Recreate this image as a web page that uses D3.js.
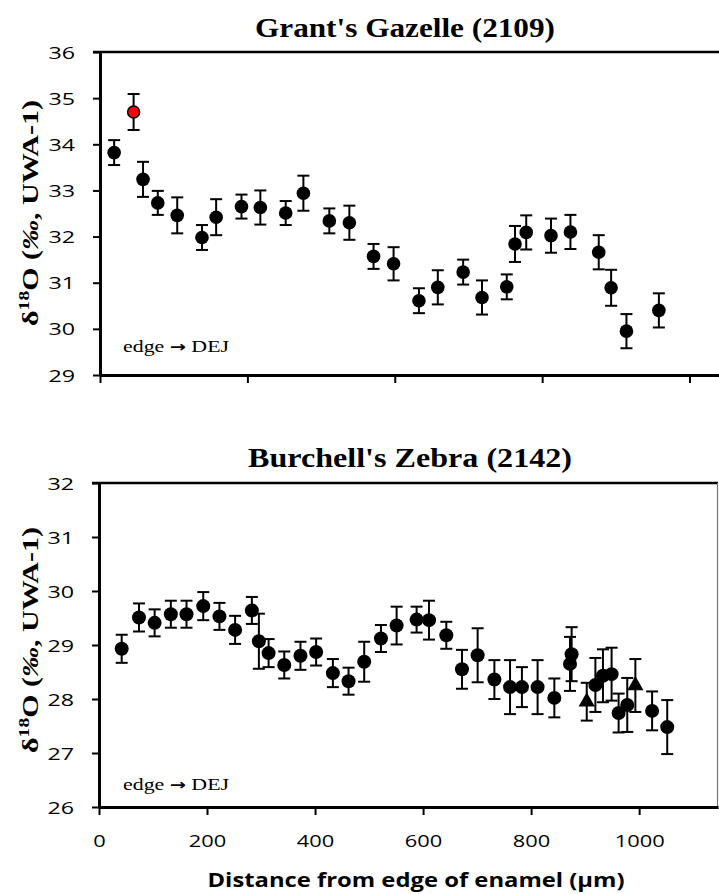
<!DOCTYPE html>
<html>
<head>
<meta charset="utf-8">
<script src="https://cdn.jsdelivr.net/npm/d3@7"></script>
<style>
body { margin: 0; background: #fff; }
</style>
</head>
<body>
<script>
// Grant's Gazelle (2109)
var gazX = [24, 73, 98, 131, 173, 197, 240, 272, 315, 345, 389, 423, 464, 498, 541, 573, 616, 648, 690, 704, 723, 765, 798, 846, 867, 893, 948];
var gazY = [33.82, 33.24, 32.73, 32.46, 31.98, 32.42, 32.65, 32.63, 32.51, 32.94, 32.34, 32.30, 31.57, 31.41, 30.61, 30.90, 31.23, 30.68, 30.91, 31.84, 32.09, 32.02, 32.10, 31.66, 30.89, 29.95, 30.40];
var gazErr = [0.27, 0.38, 0.26, 0.39, 0.27, 0.39, 0.26, 0.37, 0.26, 0.38, 0.27, 0.37, 0.27, 0.36, 0.27, 0.37, 0.27, 0.37, 0.27, 0.39, 0.37, 0.37, 0.37, 0.37, 0.39, 0.37, 0.37];
// red point
var gazRedX = [57];
var gazRedY = [34.70];
var gazRedErr = [0.39];

// Burchell's Zebra (2142)
var zebX = [42, 74, 103, 133, 162, 193, 223, 252, 283, 296, 314, 343, 373, 402, 433, 462, 491, 522, 551, 588, 611, 643, 672, 701, 732, 761, 783, 812, 843, 872, 875, 919, 933, 949, 962, 978, 1024, 1052];
var zebY = [28.93, 29.51, 29.41, 29.57, 29.57, 29.72, 29.53, 29.28, 29.64, 29.07, 28.85, 28.63, 28.80, 28.87, 28.48, 28.33, 28.69, 29.12, 29.36, 29.47, 29.46, 29.18, 28.55, 28.81, 28.36, 28.22, 28.22, 28.22, 28.02, 28.65, 28.83, 28.26, 28.43, 28.46, 27.74, 27.89, 27.78, 27.48];
var zebErr = [0.26, 0.26, 0.25, 0.25, 0.25, 0.26, 0.25, 0.26, 0.25, 0.51, 0.26, 0.25, 0.26, 0.25, 0.26, 0.25, 0.37, 0.25, 0.35, 0.24, 0.36, 0.25, 0.36, 0.5, 0.36, 0.5, 0.37, 0.5, 0.36, 0.5, 0.5, 0.5, 0.49, 0.49, 0.36, 0.5, 0.36, 0.5];
// triangles
var triX = [903, 993];
var triY = [27.95, 28.25];
var triErr = [0.35, 0.49];

var yTicksTop = [29, 30, 31, 32, 33, 34, 35, 36];
var xTicksTop = [0, 250, 500, 750, 1000];
var yTicksBot = [26, 27, 28, 29, 30, 31, 32];
var xTicksBot = [0, 200, 400, 600, 800, 1000];

var svg = d3.select("body").append("svg")
	.attr("width", 719)
	.attr("height", 894);

var serif = "'Liberation Serif', 'Times New Roman', serif";
var sans = "'Open Sans', 'Liberation Sans', sans-serif";
var fmt = d3.format("d");

var xTop = d3.scaleLinear().domain([0, 1050]).range([100, 719]);
var yTop = d3.scaleLinear().domain([29, 36]).range([375, 52]);
var xBot = d3.scaleLinear().domain([0, 1146]).range([99, 718]);
var yBot = d3.scaleLinear().domain([26, 32]).range([807, 483]);

function pts(xs, ys, es) {
	return xs.map(function (d, i) { return { x: d, y: ys[i], e: es[i] }; });
}

function errBars(g, data, x, y) {
	var eb = g.append("g").attr("stroke", "#000").attr("stroke-width", 2).attr("fill", "none");
	data.forEach(function (d) {
		var cx = x(d.x);
		eb.append("line").attr("x1", cx).attr("x2", cx).attr("y1", y(d.y + d.e)).attr("y2", y(d.y - d.e));
		eb.append("line").attr("x1", cx - 6).attr("x2", cx + 6).attr("y1", y(d.y + d.e)).attr("y2", y(d.y + d.e));
		eb.append("line").attr("x1", cx - 6).attr("x2", cx + 6).attr("y1", y(d.y - d.e)).attr("y2", y(d.y - d.e));
	});
}

function styleYAxis(g) {
	g.attr("font-family", null).attr("font-size", null);
	g.select(".domain").attr("stroke-width", 3);
	g.selectAll(".tick line").attr("stroke-width", 2);
	g.selectAll(".tick text")
		.style("font-family", sans)
		.style("font-size", "17px")
		.attr("x", -25)
		.attr("dy", "0.36em")
		.attr("textLength", function (d) { return fmt(d).length * 13.3; })
		.attr("lengthAdjust", "spacingAndGlyphs");
}

// ---------- top panel ----------
var gTop = svg.append("g");

gTop.append("line").attr("x1", 93).attr("x2", 719).attr("y1", 52).attr("y2", 52)
	.attr("stroke", "#000").attr("stroke-width", 2.5);

var gxTop = gTop.append("g")
	.attr("transform", "translate(0,375)")
	.call(d3.axisBottom(xTop).tickValues(xTicksTop).tickSize(8).tickSizeOuter(0).tickFormat(""));
gxTop.select(".domain").attr("stroke-width", 3);
gxTop.selectAll(".tick line").attr("stroke-width", 2);

var gyTop = gTop.append("g")
	.attr("transform", "translate(100,0)")
	.call(d3.axisLeft(yTop).tickValues(yTicksTop).tickFormat(fmt).tickSize(7).tickSizeOuter(0));
styleYAxis(gyTop);

var gazData = pts(gazX, gazY, gazErr);
var gazRed = pts(gazRedX, gazRedY, gazRedErr);
errBars(gTop, gazData.concat(gazRed), xTop, yTop);

gTop.append("g").selectAll("circle").data(gazData).join("circle")
	.attr("cx", function (d) { return xTop(d.x); })
	.attr("cy", function (d) { return yTop(d.y); })
	.attr("r", 6.8)
	.attr("fill", "#000");

gTop.append("g").selectAll("circle").data(gazRed).join("circle")
	.attr("cx", function (d) { return xTop(d.x); })
	.attr("cy", function (d) { return yTop(d.y); })
	.attr("r", 6)
	.attr("fill", "#ff0000")
	.attr("stroke", "#000")
	.attr("stroke-width", 1.5);

gTop.append("text")
	.attr("x", 405).attr("y", 37)
	.attr("text-anchor", "middle")
	.attr("font-family", serif).attr("font-weight", "bold").attr("font-size", 28)
	.attr("textLength", 300).attr("lengthAdjust", "spacingAndGlyphs")
	.text("Grant's Gazelle (2109)");

// ---------- bottom panel ----------
var gBot = svg.append("g");

gBot.append("line").attr("x1", 92).attr("x2", 718).attr("y1", 483).attr("y2", 483)
	.attr("stroke", "#000").attr("stroke-width", 2.5);
gBot.append("line").attr("x1", 717.5).attr("x2", 717.5).attr("y1", 483).attr("y2", 807)
	.attr("stroke", "#777").attr("stroke-width", 1.2);

var gxBot = gBot.append("g")
	.attr("transform", "translate(0,807)")
	.call(d3.axisBottom(xBot).tickValues(xTicksBot).tickFormat(fmt).tickSize(8).tickSizeOuter(0));
gxBot.attr("font-family", null).attr("font-size", null);
gxBot.select(".domain").attr("stroke-width", 3);
gxBot.selectAll(".tick line").attr("stroke-width", 2);
gxBot.selectAll(".tick text")
	.style("font-family", sans)
	.style("font-size", "17px")
	.attr("y", 28)
	.attr("dy", "0.71em")
	.attr("textLength", function (d) { return fmt(d).length * 12.5; })
	.attr("lengthAdjust", "spacingAndGlyphs");

var gyBot = gBot.append("g")
	.attr("transform", "translate(99,0)")
	.call(d3.axisLeft(yBot).tickValues(yTicksBot).tickFormat(fmt).tickSize(7).tickSizeOuter(0));
styleYAxis(gyBot);

var zebData = pts(zebX, zebY, zebErr);
var triData = pts(triX, triY, triErr);
errBars(gBot, zebData.concat(triData), xBot, yBot);

gBot.append("g").selectAll("circle").data(zebData).join("circle")
	.attr("cx", function (d) { return xBot(d.x); })
	.attr("cy", function (d) { return yBot(d.y); })
	.attr("r", 7)
	.attr("fill", "#000");

gBot.append("g").selectAll("path").data(triData).join("path")
	.attr("d", d3.symbol().type(d3.symbolTriangle).size(115))
	.attr("transform", function (d) { return "translate(" + xBot(d.x) + "," + yBot(d.y) + ")"; })
	.attr("fill", "#000");

gBot.append("text")
	.attr("x", 410).attr("y", 467)
	.attr("text-anchor", "middle")
	.attr("font-family", serif).attr("font-weight", "bold").attr("font-size", 28)
	.attr("textLength", 324).attr("lengthAdjust", "spacingAndGlyphs")
	.text("Burchell's Zebra (2142)");

// ---------- shared texts ----------
function yTitle(cy) {
	var t = svg.append("text")
		.attr("transform", "translate(38," + cy + ") rotate(-90)")
		.attr("text-anchor", "middle")
		.attr("font-family", serif).attr("font-weight", "bold").attr("font-size", 23)
		.attr("textLength", 226).attr("lengthAdjust", "spacingAndGlyphs");
	t.append("tspan").text("\u03B4");
	t.append("tspan").attr("font-size", 15).attr("dy", -9).text("18");
	t.append("tspan").attr("dy", 9).text("O (");
	t.append("tspan").attr("font-style", "italic").text("\u2030");
	t.append("tspan").text(", UWA-1)");
}
yTitle(213);
yTitle(640);

function edgeLabel(yb) {
	var t = svg.append("text")
		.attr("x", 123).attr("y", yb)
		.attr("font-family", serif).attr("font-size", 17)
		.attr("textLength", 106).attr("lengthAdjust", "spacingAndGlyphs");
	t.append("tspan").text("edge ");
	t.append("tspan").attr("font-family", "'DejaVu Sans', sans-serif").attr("font-weight", "bold").attr("font-size", 15).text("\u2192");
	t.append("tspan").text(" DEJ");
}
edgeLabel(352);
edgeLabel(790);

svg.append("text")
	.attr("x", 416).attr("y", 887)
	.attr("text-anchor", "middle")
	.attr("font-family", sans).attr("font-weight", "bold").attr("font-size", 19)
	.attr("textLength", 417).attr("lengthAdjust", "spacingAndGlyphs")
	.text("Distance from edge of enamel (\u00B5m)");
</script>
</body>
</html>
